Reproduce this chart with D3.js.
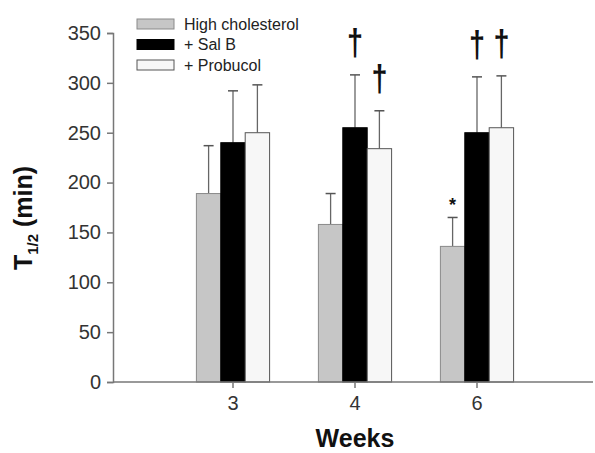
<!DOCTYPE html>
<html>
<head>
<meta charset="utf-8">
<script src="https://cdn.jsdelivr.net/npm/d3@7"></script>
<style>
  body { margin: 0; background: #fff; }
  text { font-family: "Liberation Sans", Arial, sans-serif; }
</style>
</head>
<body>
<div id="chart"></div>
<script>
// Data
const weeks = ["3", "4", "6"];
const seriesNames = ["High cholesterol", "+ Sal B", "+ Probucol"];
const highChol = [189, 158, 136];
const highCholErr = [48, 31, 29];
const salB = [240, 255, 250];
const salBErr = [52, 53, 56];
const probucol = [250, 234, 255];
const probucolErr = [48, 38, 52];
const sigHigh = ["", "", "*"];
const sigSalB = ["", "\u2020", "\u2020"];
const sigProb = ["", "\u2020", "\u2020"];
const yTicks = [0, 50, 100, 150, 200, 250, 300, 350];

const width = 595, height = 453;
const fills = ["#c6c6c6", "#000000", "#f7f7f7"];
const strokes = ["#8a8a8a", "#000000", "#555555"];

const svg = d3.select("#chart").append("svg")
  .attr("width", width)
  .attr("height", height);

// Scales
const y = d3.scaleLinear().domain([0, 350]).range([382, 33]);
const x = d3.scaleBand().domain(weeks).range([172, 538])
  .paddingInner(0.4).paddingOuter(0.2);
const xs = d3.scaleBand().domain(d3.range(3)).range([0, x.bandwidth()]);

// Build rows for bars
const values = [highChol, salB, probucol];
const errs = [highCholErr, salBErr, probucolErr];
const sigs = [sigHigh, sigSalB, sigProb];
const rows = [];
weeks.forEach((w, i) => {
  for (let s = 0; s < 3; s++) {
    rows.push({ week: w, s: s, v: values[s][i], e: errs[s][i], sig: sigs[s][i] });
  }
});
const cx = d => x(d.week) + xs(d.s) + xs.bandwidth() / 2;

// Error bars (drawn first so bars sit on top)
const eb = svg.append("g");
eb.selectAll("line.stem").data(rows).enter().append("line")
  .attr("x1", cx).attr("x2", cx)
  .attr("y1", d => y(d.v))
  .attr("y2", d => y(d.v + d.e))
  .attr("stroke", "#666")
  .attr("stroke-width", 1.3);
eb.selectAll("line.cap").data(rows).enter().append("line")
  .attr("x1", d => cx(d) - 5)
  .attr("x2", d => cx(d) + 5)
  .attr("y1", d => y(d.v + d.e))
  .attr("y2", d => y(d.v + d.e))
  .attr("stroke", "#555")
  .attr("stroke-width", 1.5);

// Bars
svg.append("g").selectAll("rect").data(rows).enter().append("rect")
  .attr("x", d => x(d.week) + xs(d.s))
  .attr("y", d => y(d.v))
  .attr("width", xs.bandwidth())
  .attr("height", d => y(0) - y(d.v))
  .attr("fill", d => fills[d.s])
  .attr("stroke", d => strokes[d.s])
  .attr("stroke-width", 1);

// Significance marks
svg.append("g").selectAll("text").data(rows.filter(d => d.sig)).enter().append("text")
  .attr("transform", d => d.sig === "*"
    ? `translate(${cx(d)},${y(d.v + d.e) - 6})`
    : `translate(${cx(d)},${y(d.v + d.e) - 20}) scale(0.9,1.15)`)
  .attr("text-anchor", "middle")
  .attr("font-size", d => d.sig === "*" ? 18 : 32)
  .attr("font-weight", "bold")
  .attr("fill", "#111")
  .text(d => d.sig);

// Y axis
const yAxis = svg.append("g")
  .attr("transform", "translate(113,0)")
  .call(d3.axisLeft(y).tickValues(yTicks).tickSize(6).tickPadding(6));
yAxis.select(".domain").attr("stroke", "#777").attr("stroke-width", 1.5);
yAxis.selectAll(".tick line").attr("stroke", "#777").attr("stroke-width", 1.5);
yAxis.selectAll(".tick text").attr("font-size", 20).attr("fill", "#333")
  .attr("font-family", "Liberation Sans, Arial, sans-serif");

// X axis
const xAxis = svg.append("g")
  .attr("transform", "translate(0,382)")
  .call(d3.axisBottom(x).tickSize(6).tickPadding(8).tickSizeOuter(0));
xAxis.select(".domain").attr("d", "M113,0H593").attr("stroke", "#777").attr("stroke-width", 1.5);
xAxis.selectAll(".tick line").attr("stroke", "#777").attr("stroke-width", 1.5);
xAxis.selectAll(".tick text").attr("font-size", 20).attr("fill", "#333")
  .attr("font-family", "Liberation Sans, Arial, sans-serif");

// Axis titles
svg.append("text")
  .attr("x", 355).attr("y", 447)
  .attr("text-anchor", "middle")
  .attr("font-size", 25).attr("font-weight", "bold")
  .attr("fill", "#111")
  .text("Weeks");

const yl = svg.append("text")
  .attr("transform", "translate(32,218) rotate(-90)")
  .attr("text-anchor", "middle")
  .attr("font-size", 25).attr("font-weight", "bold")
  .attr("fill", "#111");
yl.append("tspan").text("T");
yl.append("tspan").attr("font-size", 15).attr("dy", 6).text("1/2");
yl.append("tspan").attr("dy", -6).text(" (min)");

// Legend
const legend = svg.append("g");
const lg = legend.selectAll("g").data(seriesNames).enter().append("g")
  .attr("transform", (d, i) => `translate(137,${19 + i * 20.5})`);
lg.append("rect")
  .attr("width", 37).attr("height", 10)
  .attr("fill", (d, i) => fills[i])
  .attr("stroke", (d, i) => strokes[i]);
lg.append("text")
  .attr("x", 47).attr("y", 10.5)
  .attr("font-size", 16)
  .attr("fill", "#222")
  .text(d => d);
</script>
</body>
</html>
